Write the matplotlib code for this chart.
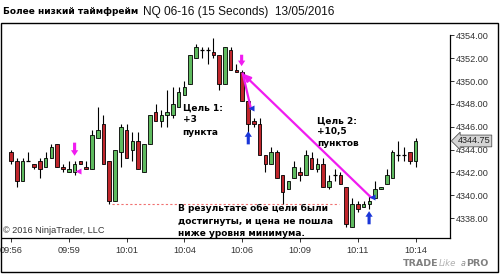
import numpy as np
import matplotlib
matplotlib.use("Agg")
from matplotlib import pyplot as plt
from matplotlib.patches import Rectangle

# 15-second bars, NQ 06-16
opens = [4343.75, 4343.0, 4341.25, 4343.0, 4342.75, 4343.0, 4342.5, 4343.25, 4344.5, 4342.5,
         4342.0, 4342.0, 4343.0, 4342.5, 4342.25, 4345.0, 4346.25, 4343.0, 4339.5, 4343.75,
         4345.75, 4344.0, 4344.75, 4342.0, 4344.5, 4347.25, 4346.5, 4347.0, 4347.0, 4347.75,
         4348.75, 4349.75, 4352.0, 4352.75, 4352.75, 4352.5, 4352.25, 4349.75, 4352.75, 4351.0,
         4350.75, 4348.25, 4346.5, 4346.25, 4343.5, 4342.75, 4343.75, 4341.75, 4340.5, 4341.5,
         4342.0, 4341.75, 4343.25, 4342.25, 4342.75, 4340.75, 4341.75, 4341.75, 4340.75, 4337.25,
         4339.25, 4339.0, 4339.25, 4339.75, 4340.5, 4341.0, 4341.5, 4343.5, 4343.5, 4343.75,
         4343.0]
highs = [4344.0, 4343.25, 4343.25, 4343.75, 4342.75, 4343.25, 4343.75, 4344.5, 4344.5, 4342.75,
         4343.0, 4343.0, 4343.0, 4343.0, 4345.75, 4347.75, 4347.0, 4343.0, 4344.0, 4346.25,
         4346.25, 4345.5, 4345.5, 4344.5, 4347.0, 4348.0, 4347.5, 4349.25, 4349.5, 4349.5,
         4350.0, 4352.25, 4353.25, 4353.0, 4353.0, 4353.75, 4352.25, 4353.0, 4353.0, 4351.5,
         4351.0, 4348.25, 4346.75, 4346.75, 4343.5, 4344.25, 4344.0, 4341.75, 4341.25, 4343.0,
         4342.5, 4344.0, 4343.75, 4343.25, 4343.25, 4341.75, 4342.25, 4342.0, 4340.75, 4339.75,
         4339.5, 4339.5, 4340.0, 4341.25, 4340.75, 4342.25, 4344.0, 4344.75, 4344.25, 4343.75,
         4345.0]
lows = [4342.75, 4340.75, 4341.25, 4343.0, 4342.25, 4341.5, 4342.5, 4343.25, 4342.5, 4342.0,
        4342.0, 4341.75, 4342.75, 4342.25, 4342.25, 4345.0, 4342.75, 4339.25, 4339.5, 4342.5,
        4343.25, 4343.0, 4342.25, 4342.0, 4344.5, 4346.5, 4346.0, 4346.0, 4346.75, 4347.75,
        4348.75, 4349.75, 4352.0, 4352.0, 4351.5, 4352.0, 4349.25, 4349.75, 4351.0, 4350.75,
        4348.25, 4345.25, 4346.0, 4343.5, 4342.0, 4342.75, 4341.5, 4339.25, 4340.5, 4341.5,
        4341.25, 4341.75, 4342.25, 4342.0, 4340.75, 4340.5, 4341.25, 4341.0, 4337.25, 4337.25,
        4338.5, 4339.0, 4338.75, 4339.75, 4340.5, 4341.0, 4341.5, 4343.0, 4343.0, 4342.75,
        4342.5]
closes = [4343.0, 4341.25, 4343.0, 4343.0, 4342.5, 4342.25, 4343.25, 4344.25, 4342.5, 4342.25,
          4342.25, 4342.75, 4342.75, 4342.25, 4345.25, 4345.75, 4342.75, 4339.5, 4344.0, 4346.0,
          4343.25, 4344.75, 4342.25, 4344.5, 4347.0, 4346.5, 4347.0, 4347.25, 4348.0, 4349.0,
          4349.5, 4352.25, 4353.0, 4352.75, 4352.75, 4352.25, 4349.75, 4353.0, 4351.0, 4350.75,
          4348.25, 4346.25, 4346.25, 4343.5, 4342.75, 4343.75, 4341.5, 4340.25, 4341.25, 4342.5,
          4341.75, 4343.5, 4342.25, 4342.75, 4340.75, 4341.25, 4341.75, 4341.0, 4337.5, 4339.25,
          4338.75, 4339.25, 4339.5, 4340.5, 4340.75, 4341.75, 4343.75, 4343.5, 4343.5, 4343.0,
          4344.75]

time_labels = ['09:56', '09:59', '10:01', '10:04', '10:06', '10:09', '10:11', '10:14']
price_ticks = [4338, 4340, 4342, 4344, 4346, 4348, 4350, 4352, 4354]
last_price = closes[-1]
support = 4339.25

green = '#5fba5f'
red = '#c0262c'
magenta = '#f01cf0'
blue = '#1a36d8'
tick_font = 'Liberation Sans'

fig = plt.figure(figsize=(5.0, 2.77), dpi=100)
ax = fig.add_axes([0.004, 0.1408, 0.896, 0.777])

o = np.array(opens)
h = np.array(highs)
l = np.array(lows)
c = np.array(closes)
x = np.arange(len(o))
up = c > o
down = c < o
flat = c == o

ax.vlines(x, l, h, color='black', lw=0.8, zorder=2)
ax.bar(x[up], (c - o)[up], bottom=o[up], width=0.62, color=green,
       edgecolor='black', linewidth=0.6, zorder=3)
ax.bar(x[down], (o - c)[down], bottom=c[down], width=0.62, color=red,
       edgecolor='black', linewidth=0.6, zorder=3)
ax.hlines(o[flat], x[flat] - 0.35, x[flat] + 0.35, color='black', lw=0.9, zorder=3)

ax.set_xlim(-1.56, 75.95)
ax.set_ylim(4336.25, 4355.1)

# support level (dashed red)
ax.hlines(support, 17.4, 56.7, color='#f07070', lw=0.8, linestyles=(0, (2, 2)), zorder=1)

# magenta trend lines
ax.annotate('', xy=(40.1, 4350.65), xytext=(62.3, 4339.8),
            arrowprops=dict(arrowstyle='-|>,head_width=0.2,head_length=0.45',
                            color=magenta, lw=1.6, shrinkA=0, shrinkB=0), zorder=4)
ax.plot([40.1, 41.5], [4350.65, 4347.6], color=magenta, lw=1.6, zorder=4)

# entry / target arrows
def thick_arrow(x0, y0, x1, y1, col):
    ax.annotate('', xy=(x1, y1), xytext=(x0, y0),
                arrowprops=dict(arrowstyle='simple,head_width=0.65,head_length=0.5,tail_width=0.28',
                                fc=col, ec='none', mutation_scale=8,
                                shrinkA=0, shrinkB=0), zorder=5)

thick_arrow(11.0, 4344.6, 11.0, 4343.45, magenta)
thick_arrow(39.9, 4352.3, 39.9, 4351.3, magenta)
thick_arrow(41.05, 4344.45, 41.05, 4345.6, blue)
thick_arrow(61.95, 4337.45, 61.95, 4338.6, blue)
ax.plot([11.55], [4342.1], marker='<', color=magenta, ms=4, mec='none', zorder=5)
ax.plot([41.55], [4347.6], marker='<', color=blue, ms=4, mec='none', zorder=5)
ax.plot([62.4], [4339.8], marker='<', color=blue, ms=4, mec='none', zorder=5)

# annotations
ax.text(29.7, 4348.05, 'Цель 1:\n+3\nпункта', fontsize=6.5, fontweight='bold',
        va='top', ha='left', linespacing=1.45, zorder=6)
ax.text(52.9, 4346.9, 'Цель 2:\n+10,5\nпунктов', fontsize=6.5, fontweight='bold',
        va='top', ha='left', linespacing=1.3, zorder=6)
ax.text(28.9, 4339.2, 'В результате обе цели были\nдостигнуты, и цена не пошла\nниже уровня минимума.',
        fontsize=6.5, fontweight='bold', va='top', ha='left', linespacing=1.45, zorder=6)
ax.text(0.003, 0.012, '© 2016 NinjaTrader, LLC', transform=ax.transAxes,
        fontsize=6.6, family=tick_font, color='#333333', va='bottom', ha='left')

# axes styling
for side in ['left', 'top']:
    ax.spines[side].set_visible(False)
ax.spines['right'].set_bounds(4336.25, 4354.0)
ax.spines['right'].set_linewidth(0.9)
ax.spines['bottom'].set_linewidth(0.9)
ax.yaxis.tick_right()
ax.set_yticks(price_ticks)
ax.set_yticklabels(['%.2f' % p for p in price_ticks])
ax.set_xticks(np.arange(0, 80, 10)[:len(time_labels)])
ax.set_xticklabels(time_labels)
ax.tick_params(axis='both', direction='out', length=3, width=0.7, pad=1.5,
               labelsize=6.6, labelcolor='#333333', color='#333333')
for lab in ax.get_xticklabels() + ax.get_yticklabels():
    lab.set_family(tick_font)
ax.tick_params(axis='x', pad=3)

# last price marker on the axis
ax.annotate('%.2f' % last_price, xy=(1.017, last_price), xycoords=('axes fraction', 'data'),
            fontsize=6.6, family=tick_font, color='#222222', va='center', ha='left',
            bbox=dict(boxstyle='larrow,pad=0.15', fc='#d4d4d4', ec='#555555', lw=0.6),
            annotation_clip=False)

# header
fig.text(0.006, 0.957, 'Более низкий таймфрейм', fontsize=6.5, fontweight='bold', va='center')
fig.text(0.286, 0.957, 'NQ 06-16 (15 Seconds)  13/05/2016', fontsize=8.6,
         family=tick_font, va='center', color='#111111')

# outer frame
fig.patches.append(Rectangle((0.002, 0.018), 0.994, 0.900, transform=fig.transFigure,
                             fill=False, ec='black', lw=1.0))

# logo
fig.text(0.806, 0.047, 'TRADE', fontsize=6.8, fontweight='bold', color='#808080', va='center')
fig.text(0.877, 0.047, 'Like', fontsize=6.2, style='italic', color='#b0b0b0', va='center')
fig.text(0.921, 0.047, 'a', fontsize=5.8, style='italic', color='#909090', va='center')
fig.text(0.933, 0.047, 'PRO', fontsize=6.8, fontweight='bold', color='#808080', va='center')

fig.savefig('out.png', dpi=100)
